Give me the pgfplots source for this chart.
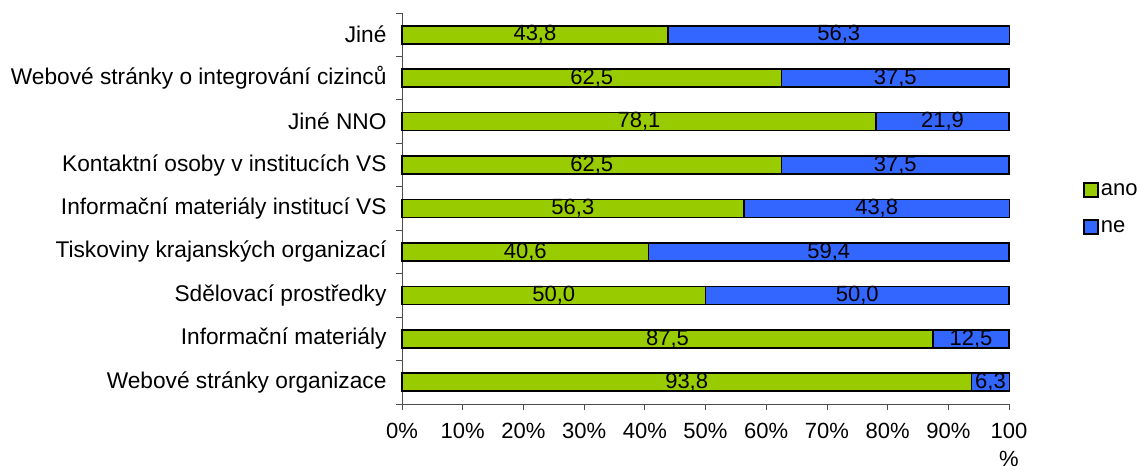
\documentclass[border=0pt]{standalone}
\usepackage{fontspec}
\setmainfont{Liberation Sans}
\usepackage{pgfplots}
\usepackage{pgfplotstable}
\pgfplotsset{compat=1.18}
\definecolor{ano}{HTML}{99CC00}
\definecolor{ne}{HTML}{3366FF}
\newcommand\chf{\fontsize{22bp}{28bp}\selectfont}
\newcommand\catf{\fontsize{22.7bp}{29bp}\selectfont}

% y: 0 = bottom category
\pgfplotstableread{
y ano ne
0 93.8 6.3
1 87.5 12.5
2 50.0 50.0
3 40.6 59.4
4 56.3 43.8
5 62.5 37.5
6 78.1 21.9
7 62.5 37.5
8 43.8 56.3
}\data

\pgfplotsset{
  base/.style={scale only axis, width=607bp, height=391bp,
    at={(402bp,66bp)}, anchor=south west,
    xmin=0, xmax=100, ymin=-0.5, ymax=8.5, enlargelimits=false, clip=false},
  /pgf/number format/.cd, fixed, fixed zerofill, precision=1, use comma,
    assume math mode=true,
}

\begin{document}
\begin{tikzpicture}
\path[use as bounding box] (0,0) rectangle (1140bp,470bp);
\begin{axis}[base, xbar stacked, bar width=18bp,
  axis lines=left, axis line style={-, draw=black!70, line width=0.8bp},
  tick align=outside, major tick length=6bp, minor tick length=6bp,
  tick style={black!70, line width=0.8bp},
  xtick={0,10,...,100},
  xticklabels={0\%,10\%,20\%,30\%,40\%,50\%,60\%,70\%,80\%,90\%,{100\\\%}},
  xticklabel style={font=\chf, align=center, yshift=-10bp},
  ytick={0,...,8},
  yticklabels={Webové stránky organizace, Informační materiály,
    Sdělovací prostředky, Tiskoviny krajanských organizací,
    Informační materiály institucí VS, Kontaktní osoby v institucích VS,
    Jiné NNO, Webové stránky o integrování cizinců, Jiné},
  major y tick style={draw=none},
  minor ytick={-0.5,0.5,...,8.5},
  yticklabel style={font=\catf, xshift=-6bp},
  legend style={at={(1.1219,0.5)}, anchor=west, draw=none, fill=none,
    font=\chf, inner sep=0pt, row sep=20bp},
  legend cell align=left,
  legend image code/.code={\draw[#1, draw=black, line width=1.6bp]
    (0bp,-7bp) rectangle (14bp,7bp);},
]
\addplot[fill=ano, draw=black, line width=1.6bp] table[x=ano, y=y] {\data};
\addplot[fill=ne, draw=black, line width=1.6bp] table[x=ne, y=y] {\data};
\legend{ano, ne}
\end{axis}
\begin{axis}[base, hide axis]
\addplot[draw=none, mark=none, nodes near coords, point meta=explicit,
  every node near coord/.append style={anchor=center, font=\chf, text=black}]
  table[x expr=\thisrow{ano}/2, y=y, meta=ano] {\data};
\addplot[draw=none, mark=none, nodes near coords, point meta=explicit,
  every node near coord/.append style={anchor=center, font=\chf, text=black}]
  table[x expr=\thisrow{ano}+\thisrow{ne}/2, y=y, meta=ne] {\data};
\end{axis}
\end{tikzpicture}
\end{document}
